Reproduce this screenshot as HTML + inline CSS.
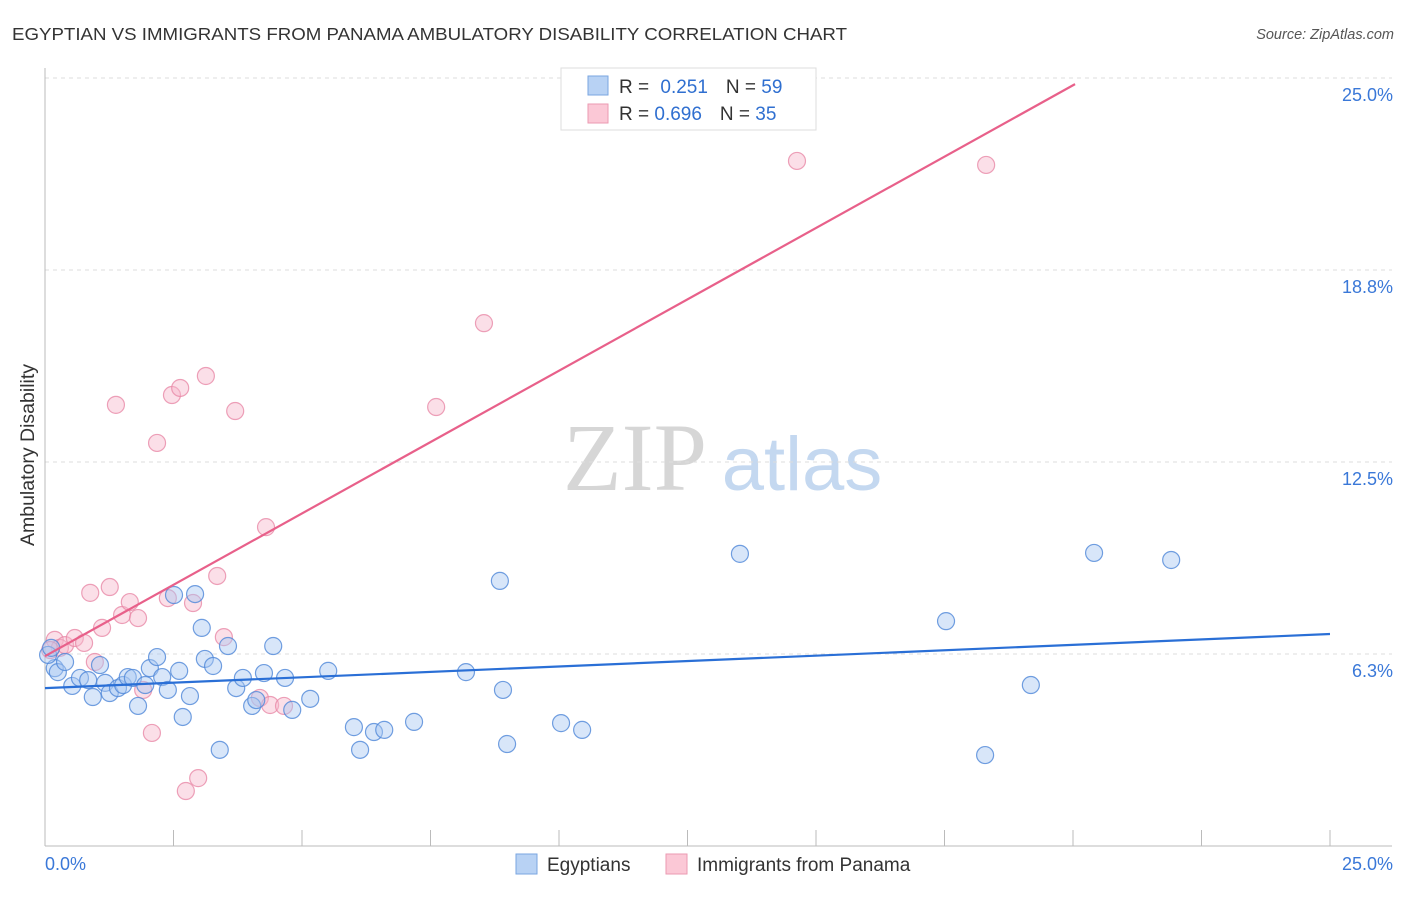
<!DOCTYPE html>
<html><head><meta charset="utf-8"><style>
body{margin:0;background:#fff;font-family:"Liberation Sans",sans-serif;}
svg text{font-family:"Liberation Sans",sans-serif;}
</style></head><body>
<svg id="chart" width="1406" height="892" xmlns="http://www.w3.org/2000/svg">
<text x="12" y="40" font-size="17.5" fill="#333" textLength="835" lengthAdjust="spacingAndGlyphs">EGYPTIAN VS IMMIGRANTS FROM PANAMA AMBULATORY DISABILITY CORRELATION CHART</text>
<text x="1394" y="39" font-size="14.5" fill="#555" font-style="italic" text-anchor="end">Source: ZipAtlas.com</text>
<g>
<text x="635" y="490" font-size="96" style="font-family:'Liberation Serif',serif" fill="#d6d6d6" text-anchor="middle">ZIP</text>
<text x="802" y="490" font-size="76" fill="#c4d8f0" text-anchor="middle">atlas</text>
</g>
<g id="grid"></g>
<g id="axes"></g>
<g id="marks"></g>
<text transform="translate(34,455) rotate(-90)" font-size="19.5" fill="#333" text-anchor="middle">Ambulatory Disability</text>
<text x="45" y="870" font-size="18" fill="#3a78d8">0.0%</text>
<text x="1393" y="870" font-size="18" fill="#3a78d8" text-anchor="end">25.0%</text>
<g>
<rect x="561" y="68" width="255" height="62" fill="#fff" stroke="#ddd"/>
<rect x="588" y="76" width="20" height="19" fill="#b8d2f4" stroke="#7aa6e0"/>
<rect x="588" y="104" width="20" height="19" fill="#fbc8d6" stroke="#eb9ab2"/>
<text x="619" y="93" font-size="19" fill="#333">R = <tspan fill="#2f6fd0" dx="6">0.251</tspan><tspan fill="#333" dx="18">N = </tspan><tspan fill="#2f6fd0">59</tspan></text>
<text x="619" y="120" font-size="19" fill="#333">R = <tspan fill="#2f6fd0">0.696</tspan><tspan fill="#333" dx="18">N = </tspan><tspan fill="#2f6fd0">35</tspan></text>
</g>
<g>
<rect x="516" y="854" width="21" height="20" fill="#b8d2f4" stroke="#7aa6e0"/>
<text x="547" y="871" font-size="19" fill="#333">Egyptians</text>
<rect x="666" y="854" width="21" height="20" fill="#fbc8d6" stroke="#eb9ab2"/>
<text x="697" y="871" font-size="19" fill="#333">Immigrants from Panama</text>
</g>
</svg>
<script>
const yTicks=[6.25,12.5,18.75,25];
const yTickLabels=["6.3%","12.5%","18.8%","25.0%"];
const xTicks=[2.5,5,7.5,10,12.5,15,17.5,20,22.5,25];
const blueX=[0.19,0.25,0.39,0.53,0.68,0.84,0.93,1.07,1.17,1.26,1.42,1.52,1.61,1.71,1.81,1.95,2.04,2.18,2.28,2.39,2.51,2.61,2.68,2.82,2.92,3.05,3.11,3.27,3.40,3.56,3.72,3.85,4.03,4.11,4.26,4.44,4.67,4.81,5.16,5.51,6.01,6.13,6.40,6.60,7.18,8.19,8.85,8.91,8.99,10.04,10.45,13.52,17.53,18.29,19.18,20.41,21.91,0.06,0.12];
const blueY=[5.79,5.66,5.99,5.21,5.47,5.40,4.85,5.89,5.31,4.98,5.14,5.24,5.50,5.47,4.56,5.24,5.79,6.15,5.50,5.08,8.17,5.70,4.20,4.88,8.20,7.10,6.09,5.86,3.13,6.51,5.14,5.47,4.56,4.75,5.63,6.51,5.47,4.43,4.79,5.70,3.87,3.13,3.71,3.78,4.04,5.66,8.63,5.08,3.32,4.00,3.78,9.51,7.32,2.96,5.24,9.54,9.31,6.22,6.45];
const pinkX=[0.19,0.29,0.39,0.58,0.76,0.88,0.97,1.11,1.26,1.38,1.50,1.65,1.81,1.91,2.08,2.18,2.39,2.47,2.63,2.74,2.88,2.98,3.13,3.35,3.48,3.70,4.18,4.30,4.38,4.65,7.61,8.54,14.63,18.31,0.10];
const pinkY=[6.71,6.45,6.54,6.77,6.61,8.24,5.99,7.10,8.43,14.36,7.52,7.94,7.42,5.08,3.68,13.12,8.07,14.68,14.91,1.79,7.91,2.21,15.30,8.79,6.80,14.16,4.82,10.38,4.59,4.56,14.29,17.02,22.30,22.17,6.38];
const blueLine=[[0,5.14],[25,6.9]];
const pinkLine=[[0,6.18],[20.04,24.8]];
const NS="http://www.w3.org/2000/svg";
const sx=v=>45+v*51.4;
const sy=v=>846-v*30.72;
function mk(tag,parent,attrs){const e=document.createElementNS(NS,tag);for(const k in attrs)e.setAttribute(k,attrs[k]);document.getElementById(parent).appendChild(e);return e;}
yTicks.forEach((t,i)=>{
 const l=mk('line','grid',{x1:45,x2:1392,y1:sy(t),y2:sy(t),stroke:'#ddd','stroke-dasharray':'4,4'});
 
 
 const tx=mk('text','grid',{x:1393,y:sy(t)+23,'font-size':18,fill:'#3a78d8','text-anchor':'end'});
 tx.textContent=yTickLabels[i];
 
 
});
const ya=mk('line','axes',{x1:45,x2:45,y1:68,y2:846,stroke:'#bbb'});


const xa=mk('line','axes',{x1:45,x2:1392,y1:846,y2:846,stroke:'#bbb'});


xTicks.forEach(t=>{
 const l=mk('line','axes',{x1:sx(t),x2:sx(t),y1:830,y2:846,stroke:'#bbb'});
 
 
});
function pts(X,Y,fill,stroke,name){
 X.forEach((x,i)=>{
  const c=mk('circle','marks',{cx:sx(x),cy:sy(Y[i]),r:8.5,fill:fill,'fill-opacity':0.45,stroke:stroke,'stroke-width':1.2,'stroke-opacity':0.8});
  
  
 });
}
pts(pinkX,pinkY,'#f7b8cb','#e98aa8','panama-point');
pts(blueX,blueY,'#a9c8f2','#4f87d8','egyptian-point');
const bl=mk('line','marks',{x1:sx(blueLine[0][0]),y1:sy(blueLine[0][1]),x2:sx(blueLine[1][0]),y2:sy(blueLine[1][1]),stroke:'#2a6fd6','stroke-width':2.2});


const pl=mk('line','marks',{x1:sx(pinkLine[0][0]),y1:sy(pinkLine[0][1]),x2:sx(pinkLine[1][0]),y2:sy(pinkLine[1][1]),stroke:'#e8608a','stroke-width':2.2});


</script>
</body></html>
